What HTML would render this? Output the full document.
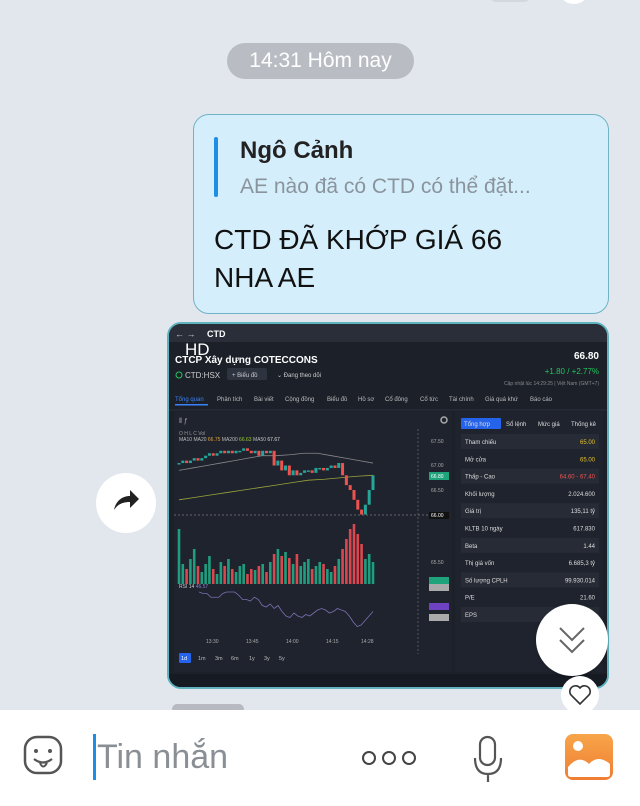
<!DOCTYPE html>
<html><head><meta charset="utf-8">
<style>
*{margin:0;padding:0;box-sizing:border-box}
body{width:640px;height:806px;overflow:hidden;background:#e2e7ee;font-family:"Liberation Sans",sans-serif;position:relative}
.abs{position:absolute}
</style></head>
<body>
<div class="abs" style="left:490px;top:-10px;width:40px;height:12px;background:#d3d8df;border-radius:6px"></div>
<div class="abs" style="left:560px;top:-20px;width:28px;height:24px;background:#fff;border-radius:50%"></div>

<div class="abs" style="left:227px;top:43px;width:187px;height:36px;background:#b9bdc3;border-radius:18px;color:#fff;font-size:21px;line-height:36px;text-align:center">14:31 Hôm nay</div>

<div class="abs" style="left:193px;top:114px;width:416px;height:200px;background:#d5eefb;border:1.5px solid #6fb3c4;border-radius:16px">
  <div class="abs" style="left:20px;top:22px;width:4px;height:60px;background:#1d8ee6;border-radius:2px"></div>
  <div class="abs" style="left:46px;top:22px;font-size:24px;font-weight:bold;color:#222">Ngô Cảnh</div>
  <div class="abs" style="left:46px;top:60px;font-size:21px;color:#8a949c;white-space:nowrap">AE nào đã có CTD có thể đặt...</div>
  <div class="abs" style="left:20px;top:106px;font-size:28px;line-height:38px;color:#111">CTD ĐÃ KHỚP GIÁ 66<br>NHA AE</div>
</div>

<div class="abs" style="left:96px;top:473px;width:60px;height:60px;background:#fff;border-radius:50%">
  <svg width="60" height="60"><path d="M18 37 C20 27 27 23 34 23 L34 17 L43 26 L34 35 L34 29 C27 29 22 31 18 37Z" fill="#222"/></svg>
</div>

<div class="abs" style="left:167px;top:322px;width:442px;height:367px;border:2px solid #5fb3be;border-radius:14px;overflow:hidden;background:#1c2029">
<svg id="scr" width="438" height="363" style="position:absolute;left:0;top:0" font-family="Liberation Sans, sans-serif">
  <rect width="438" height="363" fill="#1c2029"/>
  <rect width="438" height="18" fill="#2a2e39"/>
  <text x="6" y="13" fill="#ccc" font-size="9">←  →</text>
  <text x="38" y="13" fill="#fff" font-size="9" font-weight="bold">CTD</text>
  <text x="16" y="31" fill="#fff" font-size="17">HD</text>
  <text x="6" y="39" fill="#fff" font-size="10" font-weight="bold">CTCP Xây dựng COTECCONS</text>
  <text x="430" y="35" fill="#fff" font-size="10" font-weight="bold" text-anchor="end">66.80</text>
  <text x="430" y="50" fill="#22c55e" font-size="8" text-anchor="end">+1.80 / +2.77%</text>
  <text x="430" y="61" fill="#888" font-size="5" text-anchor="end">Cập nhật lúc 14:29:25 | Việt Nam (GMT+7)</text>
  <circle cx="10" cy="51" r="3" fill="none" stroke="#22c55e"/>
  <text x="16" y="54" fill="#ccc" font-size="8">CTD:HSX</text>
  <rect x="58" y="44" width="40" height="12" fill="#2e3340" rx="2"/>
  <text x="63" y="53" fill="#ccc" font-size="6">+  Biểu đồ</text>
  <text x="108" y="53" fill="#ccc" font-size="6">⌄  Đang theo dõi</text>
  <g fill="#bbb" font-size="6">
  <text x="6" y="77" fill="#3b82f6">Tổng quan</text><text x="48" y="77">Phân tích</text><text x="85" y="77">Bài viết</text><text x="116" y="77">Cộng đồng</text><text x="158" y="77">Biểu đồ</text><text x="189" y="77">Hồ sơ</text><text x="216" y="77">Cổ đông</text><text x="251" y="77">Cổ tức</text><text x="280" y="77">Tài chính</text><text x="316" y="77">Giá quá khứ</text><text x="361" y="77">Báo cáo</text>
  </g>
  <rect x="6" y="80" width="33" height="1.5" fill="#3b82f6"/>
  <line x1="0" y1="86" x2="438" y2="86" stroke="#2c313c"/>
  <rect x="5" y="88" width="278" height="260" fill="#1f232d"/>
  <text x="10" y="99" fill="#aaa" font-size="7">⫴   ƒ</text>
  <circle cx="275" cy="96" r="3" fill="none" stroke="#aaa" stroke-width="1.5"/>
  <text x="10" y="111" fill="#999" font-size="5">O        H        L        C        Vol</text>
  <text x="10" y="117" fill="#bbb" font-size="5">MA10         MA20 <tspan fill="#e6a23c">66.75</tspan> MA200 <tspan fill="#9acd32">66.63</tspan> MA50 <tspan fill="#ddd">67.67</tspan></text>
  <line x1="249" y1="105" x2="249" y2="330" stroke="#555" stroke-dasharray="2,2"/>
  <g id="plot"></g>
  <g fill="#aaa" font-size="5">
    <text x="262" y="119">67.50</text><text x="262" y="143">67.00</text><text x="262" y="168">66.50</text><text x="262" y="240">65.50</text><text x="262" y="262">65.00</text>
  </g>
  <rect x="260" y="148" width="20" height="8" fill="#1fa37a"/><text x="262" y="154" fill="#fff" font-size="5">66.80</text>
  <rect x="260" y="188" width="20" height="7" fill="#111"/><text x="262" y="193" fill="#fff" font-size="5">66.00</text>
  <line x1="5" y1="191" x2="260" y2="191" stroke="#666" stroke-dasharray="2,2"/>
  <rect x="260" y="253" width="20" height="7" fill="#1fa37a"/><rect x="260" y="260" width="20" height="7" fill="#aaa"/>
  <rect x="260" y="279" width="20" height="7" fill="#6f42c1"/><rect x="260" y="290" width="20" height="7" fill="#aaa"/>
  <text x="10" y="264" fill="#ccc" font-size="5">RSI 14 <tspan fill="#8a7fd0">46.57</tspan></text>
  <g fill="#aaa" font-size="5"><text x="37" y="319">13:30</text><text x="77" y="319">13:45</text><text x="117" y="319">14:00</text><text x="157" y="319">14:15</text><text x="192" y="319">14:28</text></g>
  <rect x="10" y="329" width="12" height="10" fill="#2563eb" rx="1"/>
  <g fill="#bbb" font-size="5.5"><text x="12" y="336" fill="#fff">1d</text><text x="29" y="336">1m</text><text x="46" y="336">3m</text><text x="62" y="336">6m</text><text x="80" y="336">1y</text><text x="95" y="336">3y</text><text x="110" y="336">5y</text></g>
  <rect x="0" y="350" width="438" height="13" fill="#161a22"/>
  <g id="panel"></g>
</svg>
</div>

<div class="abs" style="left:536px;top:604px;width:72px;height:72px;background:#fff;border-radius:50%;box-shadow:0 1px 3px rgba(0,0,0,.2)">
  <svg width="72" height="72"><path d="M24 24 L36 36 L48 24 M24 36 L36 48 L48 36" fill="none" stroke="#666" stroke-width="2"/></svg>
</div>
<div class="abs" style="left:561px;top:676px;width:38px;height:38px;background:#fff;border-radius:50%">
  <svg width="38" height="38"><path d="M19 28 L10 19 A5 5 0 0 1 19 12 A5 5 0 0 1 28 19Z" fill="none" stroke="#333" stroke-width="1.6"/></svg>
</div>
<div class="abs" style="left:172px;top:704px;width:72px;height:10px;background:#b7bbc1;border-radius:6px"></div>

<div class="abs" style="left:0;top:710px;width:640px;height:96px;background:#fff">
  <svg class="abs" style="left:22px;top:24px" width="42" height="42"><rect x="3" y="3" width="36" height="36" rx="12" fill="none" stroke="#555" stroke-width="2.5"/><circle cx="14" cy="17" r="2" fill="#555"/><circle cx="28" cy="17" r="2" fill="#555"/><path d="M12 25 Q21 32 30 25" fill="none" stroke="#555" stroke-width="2.3"/><path d="M18 29 Q21 36 25 29" fill="none" stroke="#555" stroke-width="2"/></svg>
  <div class="abs" style="left:93px;top:24px;width:240px;height:46px;border-left:3px solid #1d8ee6;font-size:34px;color:#8a8f95;line-height:46px;padding-left:1px">Tin nhắn</div>
  <svg class="abs" style="left:360px;top:38px" width="60" height="20"><circle cx="9" cy="10" r="6" fill="none" stroke="#444" stroke-width="2"/><circle cx="29" cy="10" r="6" fill="none" stroke="#444" stroke-width="2"/><circle cx="49" cy="10" r="6" fill="none" stroke="#444" stroke-width="2"/></svg>
  <svg class="abs" style="left:470px;top:24px" width="36" height="52"><rect x="10" y="3" width="15" height="28" rx="7.5" fill="none" stroke="#555" stroke-width="2.2"/><path d="M5 24 Q5 40 18 40 Q31 40 31 24 M18 40 L18 48" fill="none" stroke="#555" stroke-width="2.2"/></svg>
  <svg class="abs" style="left:565px;top:24px" width="48" height="46"><defs><linearGradient id="g" x1="0" y1="0" x2="0" y2="1"><stop offset="0" stop-color="#f7a54a"/><stop offset="1" stop-color="#f07d32"/></linearGradient></defs><rect x="0" y="0" width="48" height="46" rx="8" fill="url(#g)"/><circle cx="13" cy="12" r="5" fill="#fff"/><path d="M3 33 Q14 20 24 30 Q33 20 45 30 L45 40 Q45 43 42 43 L6 43 Q3 43 3 40Z" fill="#fff"/></svg>
</div>

<script>
const ns="http://www.w3.org/2000/svg";
// price data (close per candle)
const closes=[67.05,67.1,67.05,67.1,67.15,67.1,67.15,67.2,67.25,67.2,67.25,67.3,67.25,67.3,67.25,67.3,67.3,67.35,67.3,67.25,67.3,67.2,67.3,67.25,67.3,67.0,67.1,66.9,67.0,66.8,66.9,66.8,66.85,66.9,66.9,66.85,66.95,66.95,66.9,66.95,67.0,66.95,67.05,66.8,66.6,66.5,66.3,66.1,66.0,66.2,66.5,66.8];
const volumes=[55,20,15,25,35,18,12,20,28,15,10,22,18,25,15,12,18,20,10,15,14,18,20,12,22,30,35,28,32,26,20,30,18,22,25,15,18,22,20,15,12,18,25,35,45,55,60,50,40,25,30,22];
const rsiValues=[62,60,60,55,55,55,60,62,62,62,58,52,52,50,55,52,44,42,46,40,44,36,30,28,34,30,28,32,30,34,38,40,38,34,36,40,38,36,30,22,16,18,24,30,36];
const maSlow=[66.9,66.95,67.0,67.05,67.1,67.15,67.2,67.2,67.22,67.25,67.25,67.2,67.15,67.1,67.05];
const maLong=[66.3,66.35,66.4,66.45,66.5,66.55,66.6,66.65,66.7,66.72,66.75,66.78,66.8];
const panelLabels=["Tham chiếu","Mở cửa","Thấp - Cao","Khối lượng","Giá trị","KLTB 10 ngày","Beta","Thị giá vốn","Số lượng CPLH","P/E","EPS"];
const panelValues=["65.00","65.00","64.60 - 67.40","2.024.600","135,11 tỷ","617.830","1.44","6.685,3 tỷ","99.930.014","21.60",""];
const x0=10,x1=204;
const xs=i=>x0+(x1-x0)*i/(closes.length-1);
const yPrice=v=>117-(v-67.5)*49;
const yVol=v=>260-v;
const yRsi=v=>262+(70-v)*0.75;
const g=document.getElementById('plot');
function mk(t,a){const e=document.createElementNS(ns,t);for(const k in a)e.setAttribute(k,a[k]);return e;}
function poly(arr,xf,yf,col,name){const pts=arr.map((v,i)=>xf(i)+','+yf(v)).join(' ');const p=mk('polyline',{points:pts,fill:'none',stroke:col,'stroke-width':0.8});


g.appendChild(p);}
poly(maSlow,i=>x0+i*(x1-x0)/(maSlow.length-1),yPrice,'#888','ma50-line');
poly(maLong,i=>x0+i*(x1-x0)/(maLong.length-1),yPrice,'#9aa33a','ma200-line');
volumes.forEach((v,i)=>{const up=i==0||closes[i]>=closes[i-1];const r=mk('rect',{x:xs(i)-1.3,y:yVol(v),width:2.6,height:v,fill:up?'#1e9e7e':'#d9474f'});


g.appendChild(r);});
closes.forEach((c,i)=>{const o=i?closes[i-1]:c;const up=c>=o;const y1=yPrice(Math.max(o,c)),y2=yPrice(Math.min(o,c));
const r=mk('rect',{x:xs(i)-1.5,y:y1,width:3,height:Math.max(1.5,y2-y1),fill:up?'#26a69a':'#ef5350'});


g.appendChild(r);});
poly(rsiValues,i=>x0+20+i*(x1-x0-20)/(rsiValues.length-1),yRsi,'#7a6fb0','rsi-line');
const pn=document.getElementById('panel');
pn.appendChild(mk('rect',{x:286,y:88,width:148,height:260,fill:'#1f232d'}));
const tabs=[["Tổng hợp",292],["Sổ lệnh",334],["Mức giá",366],["Thống kê",399]];
pn.appendChild(mk('rect',{x:292,y:94,width:40,height:11,fill:'#2563eb',rx:1}));
tabs.forEach(t=>{const e=mk('text',{x:t[1]+3,y:102,fill:'#ddd','font-size':6});e.textContent=t[0];pn.appendChild(e);});
panelLabels.forEach((l,i)=>{const y=110+i*17.3;pn.appendChild(mk('rect',{x:292,y:y,width:138,height:15,fill:i%2?'#1f232d':'#272b36'}));
const a=mk('text',{x:296,y:y+10,fill:'#ddd','font-size':6});a.textContent=l;pn.appendChild(a);
const b=mk('text',{x:426,y:y+10,fill:i<2?'#e6c229':(i==2?'#ef5350':'#ddd'),'font-size':6,'text-anchor':'end'});b.textContent=panelValues[i];pn.appendChild(b);});
</script>
</body></html>
